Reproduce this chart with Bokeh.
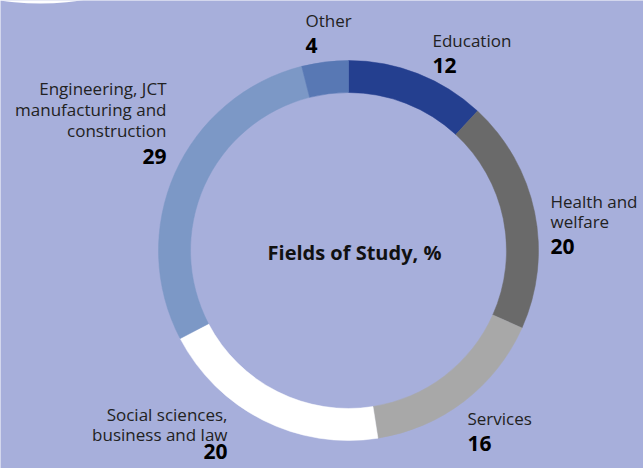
import math
from bokeh.plotting import figure
from bokeh.models import Range1d, ColumnDataSource
from bokeh.core.properties import value
from bokeh.embed import file_html
from bokeh.resources import INLINE

categories = ["Education", "Health and welfare", "Services",
              "Social sciences, business and law",
              "Engineering, JCT manufacturing and construction", "Other"]
values = [12, 20, 16, 20, 29, 4]
colors = ["#243f8f", "#6a6a6a", "#a8a8a8", "#ffffff", "#7c98c6", "#5878b4"]

# label lines (text) for each category
label_lines = [
    ["Education"],
    ["Health and", "welfare"],
    ["Services"],
    ["Social sciences,", "business and law"],
    ["Engineering, JCT", "manufacturing and", "construction"],
    ["Other"],
]
title = "Fields of Study, %"

W, H = 643, 468
BG = "#a7afdb"
FONT = "Open Sans"

p = figure(width=W, height=H, output_backend="svg", toolbar_location=None,
           x_range=Range1d(0, W), y_range=Range1d(0, H), min_border=0)
p.axis.visible = False
p.grid.visible = False
p.outline_line_color = None
p.background_fill_color = BG
p.border_fill_color = BG

# decorative white circle at top-left
p.circle(x=[40], y=[H + 265], radius=268, fill_color="white", line_color=None)

# donut
cx, cy = 348, H - 250
total = sum(values)
starts, ends = [], []
acc = 0
for v in values:
    starts.append(math.pi / 2 - 2 * math.pi * acc / total)
    acc += v
    ends.append(math.pi / 2 - 2 * math.pi * acc / total)
src = ColumnDataSource(dict(start=starts, end=ends, color=colors))
p.annular_wedge(x=cx, y=cy, inner_radius=158, outer_radius=190,
                start_angle="start", end_angle="end", direction="clock",
                fill_color="color", line_color="color", line_width=0.5, source=src)

# label layout: (x, first baseline, align, line step, number baseline)
layout = [
    (432, 40, "left", 22, 65),
    (550, 201, "left", 20, 246),
    (467, 418, "left", 22, 443),
    (227, 414, "right", 20, 451),
    (166, 88, "right", 21, 156),
    (305, 20, "left", 22, 45),
]
for lines, v, (lx, by, al, step, ny) in zip(label_lines, values, layout):
    ys = [H - (by + i * step) for i in range(len(lines))]
    p.text(x=[lx] * len(lines), y=ys, text=lines, text_font=value(FONT),
           text_font_size="17px", text_color="#222222", text_align=al,
           text_baseline="alphabetic")
    p.text(x=[lx], y=[H - ny], text=[str(v)], text_font=value(FONT),
           text_font_size="21px", text_font_style="bold", text_color="#000000",
           text_align=al, text_baseline="alphabetic")

p.text(x=[354], y=[H - 252], text=[title], text_font=value(FONT),
       text_font_size="20px", text_font_style="bold", text_color="#111111",
       text_align="center", text_baseline="alphabetic")

open("out.html", "w").write(file_html(p, INLINE))
